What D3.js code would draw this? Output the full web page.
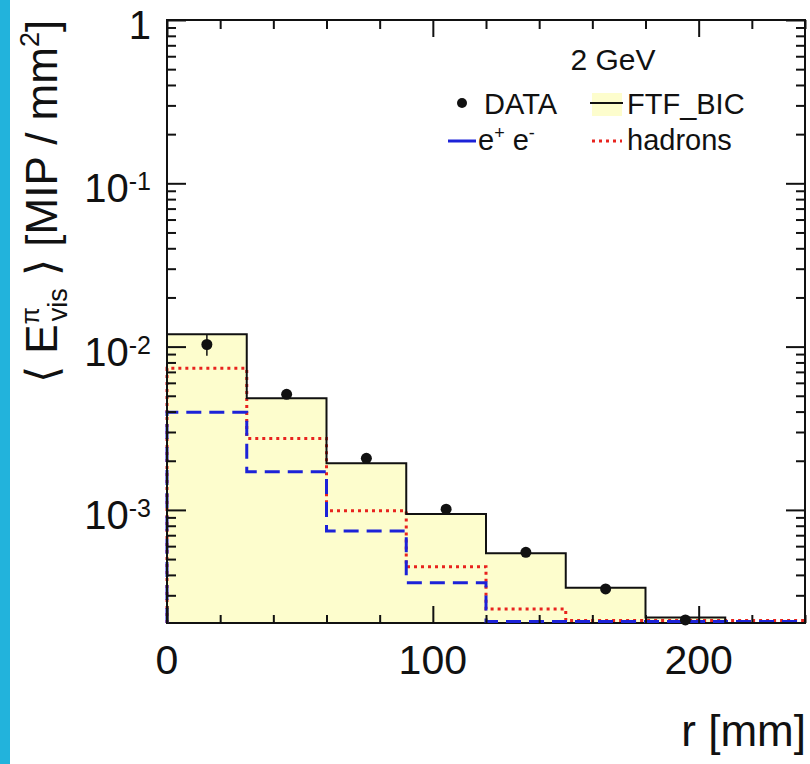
<!DOCTYPE html>
<html>
<head>
<meta charset="utf-8">
<script src="https://cdn.jsdelivr.net/npm/d3@7"></script>
<style>
  body { margin: 0; background: #fff; }
  svg { display: block; }
  text { font-family: "Liberation Sans", Arial, Helvetica, sans-serif; fill: #111; }
</style>
</head>
<body>
<svg id="chart" width="810" height="764"></svg>
<script>
// histogram bins, r [mm]
var binEdges = [0, 30, 60, 90, 120, 150, 180, 210, 240];
// FTF_BIC total (filled), hadrons (red dotted), e+e- (blue dashed)
var ftfBic = [0.0119, 0.00482, 0.00193, 0.000944, 0.000542, 0.000334, 0.000219, 0.00015];
var hadrons = [0.00736, 0.00274, 0.000989, 0.000449, 0.000247, 0.00021, 0.00021, 0.00021];
var eplusEminus = [0.00396, 0.00171, 0.000743, 0.000358, 0.000207, 0.000207, 0.000207, 0.000207];
// DATA points
var dataR = [15, 45, 75, 105, 135, 165, 195];
var dataVal = [0.0103, 0.0051, 0.00207, 0.00101, 0.00055, 0.000328, 0.000212];
var dataErr = [0.0015, 0.0002, 0.00006, 0.00003, 0.00001, 0.00001, 0.00001];
// axis labels
var yMajor = [1, 0.1, 0.01, 0.001];
var yMajorLabels = [["1", ""], ["10", "-1"], ["10", "-2"], ["10", "-3"]];
var xMajor = [0, 100, 200];

var svg = d3.select("#chart");

var pLeft = 167, pRight = 805, pTop = 20, pBottom = 623;

var x = d3.scaleLinear().domain([0, 240]).range([pLeft, pRight]);
var y = d3.scaleLog().domain([2.03e-4, 1]).range([pBottom, pTop]).clamp(true);

var fillColor = "#fdfdcd";
var redColor = "#e8231e";
var blueColor = "#1c22d8";

// cyan strip at the left edge
svg.append("rect").attr("x", 0).attr("y", 0).attr("width", 10).attr("height", 764)
  .attr("fill", "#22b3dc");

function stepPoints(vals) {
  var pts = [[binEdges[0], y.domain()[0] / 10]];
  vals.forEach(function(v, i) { pts.push([binEdges[i], v]); });
  pts.push([binEdges[binEdges.length - 1], vals[vals.length - 1]]);
  return pts;
}

var area = d3.area()
  .curve(d3.curveStepAfter)
  .x(function(d) { return x(d[0]); })
  .y0(pBottom)
  .y1(function(d) { return y(d[1]); });

var line = d3.line()
  .curve(d3.curveStepAfter)
  .x(function(d) { return x(d[0]); })
  .y(function(d) { return y(d[1]); });

// yellow fill under FTF_BIC
svg.append("path").attr("d", area(stepPoints(ftfBic).slice(1)))
  .attr("fill", fillColor);

// frame
svg.append("rect").attr("x", pLeft).attr("y", pTop)
  .attr("width", pRight - pLeft).attr("height", pBottom - pTop)
  .attr("fill", "none").attr("stroke", "#111").attr("stroke-width", 2);

// components
svg.append("path").attr("d", line(stepPoints(hadrons)))
  .attr("fill", "none").attr("stroke", redColor).attr("stroke-width", 3)
  .attr("stroke-dasharray", "3,4");

svg.append("path").attr("d", line(stepPoints(eplusEminus)))
  .attr("fill", "none").attr("stroke", blueColor).attr("stroke-width", 3)
  .attr("stroke-dasharray", "15,8");

svg.append("path").attr("d", line(stepPoints(ftfBic)))
  .attr("fill", "none").attr("stroke", "#111").attr("stroke-width", 2);

// ticks
var yMinor = y.ticks().filter(function(t) { return yMajor.indexOf(t) < 0; });
var xMinor = x.ticks(12).filter(function(t) { return xMajor.indexOf(t) < 0; });

function addAxis(axis, tx, ty) {
  var g = svg.append("g").attr("transform", "translate(" + tx + "," + ty + ")").call(axis);
  g.select(".domain").remove();
  g.selectAll("line").attr("stroke", "#111").attr("stroke-width", 2);
}

addAxis(d3.axisRight(y).tickValues(yMajor).tickSize(19).tickFormat(""), pLeft, 0);
addAxis(d3.axisRight(y).tickValues(yMinor).tickSize(9).tickFormat(""), pLeft, 0);
addAxis(d3.axisLeft(y).tickValues(yMajor).tickSize(19).tickFormat(""), pRight, 0);
addAxis(d3.axisLeft(y).tickValues(yMinor).tickSize(9).tickFormat(""), pRight, 0);
addAxis(d3.axisTop(x).tickValues(xMajor).tickSize(17).tickFormat(""), 0, pBottom);
addAxis(d3.axisTop(x).tickValues(xMinor).tickSize(8).tickFormat(""), 0, pBottom);
addAxis(d3.axisBottom(x).tickValues(xMajor).tickSize(17).tickFormat(""), 0, pTop);
addAxis(d3.axisBottom(x).tickValues(xMinor).tickSize(9).tickFormat(""), 0, pTop);

// data points with error bars
var pts = svg.append("g");
dataR.forEach(function(r, i) {
  var cx = x(r);
  pts.append("line")
    .attr("x1", cx).attr("x2", cx)
    .attr("y1", y(dataVal[i] + dataErr[i])).attr("y2", y(dataVal[i] - dataErr[i]))
    .attr("stroke", "#111").attr("stroke-width", 1.5);
  pts.append("circle").attr("cx", cx).attr("cy", y(dataVal[i])).attr("r", 5.5)
    .attr("fill", "#111");
});

// tick labels
yMajor.forEach(function(v, i) {
  var t = svg.append("text").attr("x", 151).attr("y", y(v) + 19)
    .attr("text-anchor", "end").attr("font-size", 40);
  t.append("tspan").text(yMajorLabels[i][0]);
  if (yMajorLabels[i][1]) {
    t.append("tspan").attr("font-size", 25).attr("dy", -12).text(yMajorLabels[i][1]);
  }
});

xMajor.forEach(function(v) {
  svg.append("text").attr("x", x(v)).attr("y", 674)
    .attr("text-anchor", "middle").attr("font-size", 41).text(v);
});

// axis titles
svg.append("text").attr("x", 806).attr("y", 746).attr("text-anchor", "end")
  .attr("font-size", 44).text("r [mm]");

var yt = svg.append("text")
  .attr("transform", "translate(57,383) rotate(-90)")
  .attr("x", 0).attr("y", 0).attr("font-size", 44);
yt.append("tspan").text("\u27E8 E");
yt.append("tspan").attr("font-size", 25).attr("dy", -18).text("\u03C0");
yt.append("tspan").attr("font-size", 27).attr("dx", -14).attr("dy", 28).text("vis");
yt.append("tspan").attr("dy", -10).text(" \u27E9 [MIP / mm");
yt.append("tspan").attr("font-size", 27).attr("dy", -18).text("2");
yt.append("tspan").attr("dy", 18).text("]");

// legend
svg.append("text").attr("x", 613).attr("y", 70).attr("text-anchor", "middle")
  .attr("font-size", 30).text("2 GeV");

var lg = svg.append("g");
lg.append("circle").attr("cx", 462).attr("cy", 103).attr("r", 5).attr("fill", "#111");
lg.append("text").attr("x", 484).attr("y", 114).attr("font-size", 29).text("DATA");

lg.append("rect").attr("x", 592).attr("y", 93).attr("width", 30).attr("height", 23).attr("fill", fillColor);
lg.append("line").attr("x1", 590).attr("x2", 623).attr("y1", 103).attr("y2", 103)
  .attr("stroke", "#111").attr("stroke-width", 2);
lg.append("text").attr("x", 627).attr("y", 114).attr("font-size", 29).text("FTF_BIC");

lg.append("line").attr("x1", 448).attr("x2", 476).attr("y1", 141).attr("y2", 141)
  .attr("stroke", blueColor).attr("stroke-width", 3);
var et = lg.append("text").attr("x", 478).attr("y", 150).attr("font-size", 29);
et.append("tspan").text("e");
et.append("tspan").attr("font-size", 18).attr("dy", -11).text("+");
et.append("tspan").attr("dy", 11).text(" e");
et.append("tspan").attr("font-size", 18).attr("dy", -11).text("-");

lg.append("line").attr("x1", 592).attr("x2", 622).attr("y1", 141).attr("y2", 141)
  .attr("stroke", redColor).attr("stroke-width", 3).attr("stroke-dasharray", "3,4");
lg.append("text").attr("x", 627).attr("y", 150).attr("font-size", 29).text("hadrons");
</script>
</body>
</html>
